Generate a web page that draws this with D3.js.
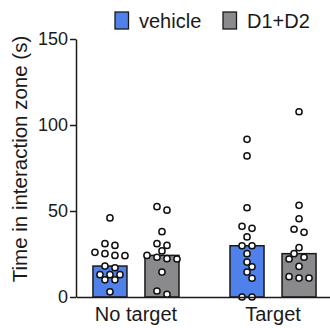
<!DOCTYPE html>
<html><head><meta charset="utf-8">
<script src="https://cdn.jsdelivr.net/npm/d3@7"></script>
<style>
html,body{margin:0;padding:0;background:#fff;}
svg{display:block;font-family:"Liberation Sans",Arial,sans-serif;}
</style></head>
<body>
<svg id="chart" width="330" height="328"></svg>
<script>
const groups = ["No target", "Target"];
const seriesNames = ["vehicle", "D1+D2"];
const seriesColors = ["#5080ea", "#8a8a8c"];
const yTicks = [0, 50, 100, 150];
const yTitle = "Time in interaction zone (s)";

const vehicleNoTarget = [46, 31, 30, 26, 25.2, 24.2, 24, 18, 17, 13, 13, 13, 10, 10, 3];
const d1d2NoTarget = [52.5, 50.5, 38, 31, 30, 26.8, 24.2, 23.1, 22.3, 22.1, 14.5, 3.5, 1.6];
const vehicleTarget = [91.7, 82, 51.9, 41.1, 39.9, 34.9, 29.8, 29.8, 25.2, 20.3, 17.6, 14.5, 10.9, 0, 0];
const d1d2Target = [107.7, 53.3, 45.5, 39.4, 37.6, 28.7, 25.2, 23.1, 22.1, 17.8, 11.8, 11, 11];

const values = {
  "No target": {"vehicle": vehicleNoTarget, "D1+D2": d1d2NoTarget},
  "Target": {"vehicle": vehicleTarget, "D1+D2": d1d2Target}
};

const svg = d3.select("#chart");
const x0 = d3.scaleBand().domain(groups).range([76, 333]).paddingInner(0.241).paddingOuter(0.058);
const x1 = d3.scaleBand().domain(seriesNames).range([0, x0.bandwidth()]).paddingInner(0.346).paddingOuter(0.173);
const y = d3.scaleLinear().domain([0, 150]).range([297, 39]);
const color = d3.scaleOrdinal().domain(seriesNames).range(seriesColors);

// bars (median)
groups.forEach(g => {
  seriesNames.forEach(s => {
    const m = d3.median(values[g][s]);
    svg.append("rect")
      .attr("x", x0(g) + x1(s))
      .attr("y", y(m))
      .attr("width", x1.bandwidth())
      .attr("height", y(0) - y(m))
      .attr("fill", color(s))
      .attr("stroke", "#1a1a1a")
      .attr("stroke-width", 1.5);
  });
});

// scatter layout: rows + collision avoidance
function layout(vals) {
  const sorted = vals.slice().sort((a, b) => b - a);
  const rows = [];
  sorted.forEach(v => {
    const r = rows[rows.length - 1];
    if (r && r[0] - v <= 2.2) r.push(v); else rows.push([v]);
  });
  const placed = [];
  const cands = [[10,0],[10,5],[10,-5],[14,0],[10,10],[10,-10],[18,0],[10,15],[10,-15]];
  rows.forEach(r => {
    const n = r.length;
    for (const [sp, sh] of cands) {
      const pts = r.map((v, i) => ({v, dx: (i - (n - 1) / 2) * sp + sh}));
      const ok = pts.every(p => placed.every(q => {
        const ddx = p.dx - q.dx, ddy = y(p.v) - y(q.v);
        return Math.sqrt(ddx * ddx + ddy * ddy) >= 6.5;
      }));
      if (ok || (sp === 10 && sh === -15)) { pts.forEach(p => placed.push(p)); break; }
    }
  });
  return placed;
}

groups.forEach(g => {
  seriesNames.forEach(s => {
    const cx = x0(g) + x1(s) + x1.bandwidth() / 2;
    svg.append("g").selectAll("circle").data(layout(values[g][s])).join("circle")
      .attr("cx", d => cx + d.dx)
      .attr("cy", d => y(d.v))
      .attr("r", 3.1)
      .attr("fill", "#fff")
      .attr("stroke", "#111")
      .attr("stroke-width", 1.5);
  });
});

// axes
const yAxis = svg.append("g").attr("transform", "translate(76,0)")
  .call(d3.axisLeft(y).tickValues(yTicks).tickSize(6).tickPadding(2).tickSizeOuter(0));
yAxis.selectAll("text").attr("font-size", 18).attr("fill", "#1a1a1a").attr("font-family", "Liberation Sans, Arial, sans-serif");
yAxis.selectAll("line,path").attr("stroke", "#1a1a1a").attr("stroke-width", 1.5);

const xAxis = svg.append("g").attr("transform", "translate(0,297)")
  .call(d3.axisBottom(x0).tickSize(0).tickPadding(10).tickSizeOuter(0));
xAxis.selectAll("text").attr("font-size", 20).attr("fill", "#1a1a1a").attr("font-family", "Liberation Sans, Arial, sans-serif");
xAxis.selectAll("path").attr("stroke", "#1a1a1a").attr("stroke-width", 1.5);

// y title
svg.append("text")
  .attr("transform", "translate(27,159) rotate(-90)")
  .attr("text-anchor", "middle")
  .attr("font-size", 20.5)
  .attr("fill", "#1a1a1a")
  .text(yTitle);

// legend
const legX = [115, 223];
const legend = svg.append("g").selectAll("g").data(seriesNames).join("g")
  .attr("transform", (d, i) => `translate(${legX[i]},12)`);
legend.append("rect").attr("width", 13.5).attr("height", 17)
  .attr("fill", d => color(d)).attr("stroke", "#1a1a1a").attr("stroke-width", 1.3);
legend.append("text").attr("x", 24).attr("y", 15.5).attr("font-size", 20)
  .attr("fill", "#1a1a1a").text(d => d);
</script>
</body></html>
